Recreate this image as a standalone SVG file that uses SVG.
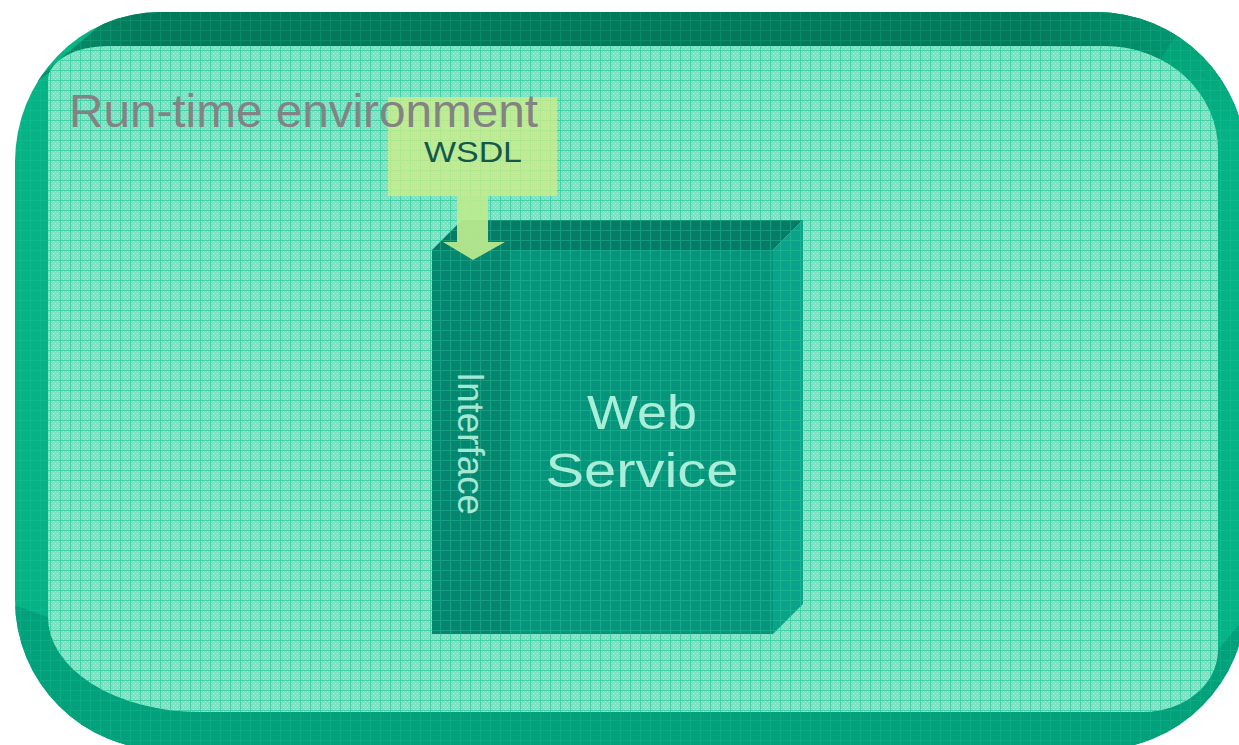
<svg xmlns="http://www.w3.org/2000/svg" width="1239" height="745" viewBox="0 0 1239 745">
  <style>
    .title { font-family: "Liberation Sans", Arial, sans-serif; font-size: 47px; fill: #838383; }
    .wsdl { font-family: "Liberation Sans", Arial, sans-serif; font-size: 30px; fill: #14584a; }
    .ws { font-family: "Liberation Sans", Arial, sans-serif; font-size: 49px; fill: #a8eed8; text-anchor: middle; }
    .intf { font-family: "Liberation Sans", Arial, sans-serif; font-size: 36px; fill: #a4e8d4; }
  </style>
  <defs>
    <pattern id="grid" width="10" height="10" patternUnits="userSpaceOnUse">
      <path d="M0 0.5 H10 M0.5 0 V10" stroke="#2fcf9f" stroke-width="1.2" fill="none" opacity="0.8"/>
    </pattern>
    <pattern id="dots" width="4" height="4" patternUnits="userSpaceOnUse">
      <rect x="1" y="1" width="1" height="1" fill="#ffffff" opacity="0.45"/>
      <rect x="3" y="3" width="1" height="1" fill="#ffffff" opacity="0.3"/>
    </pattern>
    <clipPath id="outerClip">
      <path d="M160 12 H1096 A150 150 0 0 1 1246 162 V600 A150 150 0 0 1 1096 750 H165 A150 150 0 0 1 15 600 V162 A145 150 0 0 1 160 12 Z"/>
    </clipPath>
    <linearGradient id="topGrad" x1="0" y1="0" x2="1" y2="0">
      <stop offset="0" stop-color="#0a9a72"/>
      <stop offset="0.12" stop-color="#03785a"/>
      <stop offset="0.85" stop-color="#03785a"/>
      <stop offset="1" stop-color="#039a74"/>
    </linearGradient>
    <linearGradient id="rightGrad" x1="0" y1="0" x2="0" y2="1">
      <stop offset="0" stop-color="#039a72"/>
      <stop offset="0.35" stop-color="#05b386"/>
      <stop offset="1" stop-color="#05b386"/>
    </linearGradient>
    <path id="innerShape" d="M108 46 H1105 A113 104 0 0 1 1218 150 V650 A75 62 0 0 1 1143 712 H200 A152 95 0 0 1 48 617 V80 A60 34 0 0 1 108 46 Z"/>
  </defs>

  <g id="environment">
    <g clip-path="url(#outerClip)">
      <rect x="0" y="0" width="1260" height="760" fill="#05b386"/>
      <rect x="1100" y="0" width="160" height="400" fill="url(#rightGrad)"/>
      <polygon points="130,0 1200,0 1160,60 1105,46 108,46 50,72 0,110" fill="url(#topGrad)"/>
      <polygon points="48,617 200,712 1143,712 1218,650 1260,600 1260,760 0,760 0,600" fill="#02a07b"/>
      <rect x="0" y="0" width="1260" height="760" fill="url(#grid)" opacity="0.25"/>
    </g>
    <use href="#innerShape" fill="#80e0c3"/>
    <use href="#innerShape" fill="url(#dots)"/>
    <use href="#innerShape" fill="url(#grid)"/>
  </g>

  <g id="wsdl">
    <rect x="388" y="97" width="169" height="99" fill="#d4ee86" opacity="0.75"/>
    <text class="wsdl" x="424" y="162" textLength="98" lengthAdjust="spacingAndGlyphs">WSDL</text>
  </g>

  <g id="title">
    <text class="title" x="69" y="127" textLength="469" lengthAdjust="spacingAndGlyphs">Run-time environment</text>
  </g>

  <g id="web-service">
    <polygon points="432,250 462,220 803,220 773,250" fill="#067c68"/>
    <polygon points="773,250 803,220 803,604 773,634" fill="#0aa28a"/>
    <rect x="432" y="250" width="341" height="384" fill="#06947c"/>
    <polygon points="432,250 462,220 803,220 803,604 773,634 432,634" fill="url(#grid)" opacity="0.45"/>
    <text class="ws" x="642" y="429" textLength="110" lengthAdjust="spacingAndGlyphs">Web</text>
    <text class="ws" x="642" y="487" textLength="193" lengthAdjust="spacingAndGlyphs">Service</text>
  </g>

  <g id="interface">
    <rect x="432" y="250" width="78" height="384" fill="#07846f" opacity="0.9"/>
    <rect x="432" y="250" width="78" height="384" fill="url(#grid)" opacity="0.4"/>
    <text class="intf" transform="translate(458 372) rotate(90)" textLength="143" lengthAdjust="spacingAndGlyphs">Interface</text>
  </g>

  <g id="connectors">
    <polygon points="457,196 488,196 488,242 505,242 473,260 443,242 457,242" fill="#bdea8e" opacity="0.92"/>
  </g>
</svg>
